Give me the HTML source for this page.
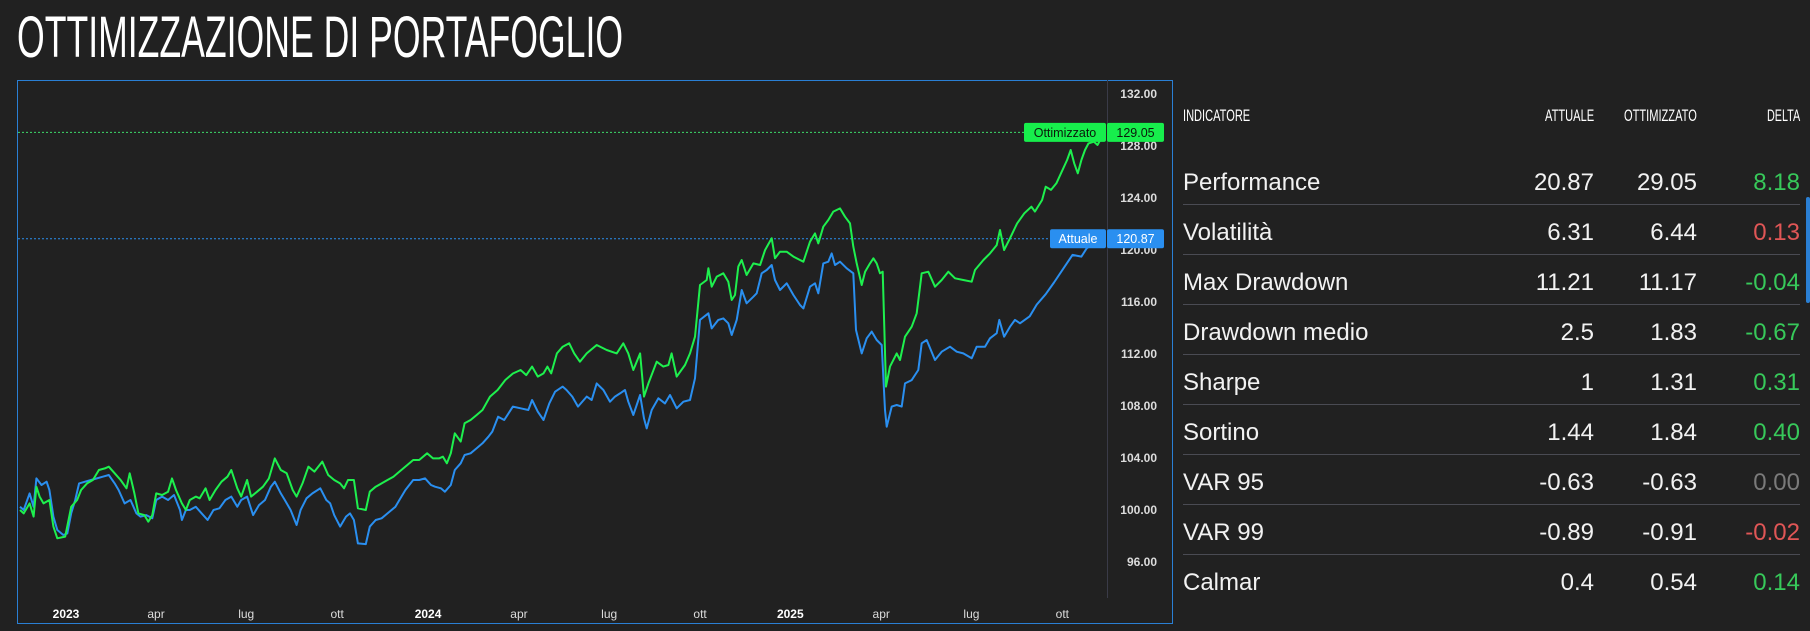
<!DOCTYPE html>
<html><head><meta charset="utf-8">
<style>
html,body{margin:0;padding:0;background:#212121;width:1810px;height:631px;overflow:hidden;font-family:"Liberation Sans",sans-serif;color:#f0f0f0}
.fit{position:absolute;white-space:nowrap;transform-origin:0 0}
#title{left:17px;top:4px;font-size:58px;color:#fff}
.hdr{font-size:17px;top:106px;color:#fff}
.lab{position:absolute;left:1183px;font-size:24px;color:#f2f2f2;white-space:nowrap}
.num{position:absolute;font-size:24px;color:#f2f2f2;text-align:right;white-space:nowrap}
.sep{position:absolute;left:1183px;width:617px;height:1px;background:#4a4b53}
</style></head><body>
<div id="title" class="fit">OTTIMIZZAZIONE DI PORTAFOGLIO</div>

<svg id="chart" width="1810" height="631" style="position:absolute;left:0;top:0" xmlns="http://www.w3.org/2000/svg">
<rect x="17.5" y="80.5" width="1155" height="543" fill="none" stroke="#2a7fd4" stroke-width="1"/>
<line x1="1107.5" y1="80" x2="1107.5" y2="598" stroke="#3a3b48" stroke-width="1"/>
<g id="plot"></g>
</svg>

<div id="table"></div>
<div style="position:absolute;left:1806px;top:197px;width:4px;height:106px;background:#2a7fd4;border-radius:2px"></div>

<script>
// ---- chart data ----
const attualeWeeks = [0,0.54,1.39,1.96,2.36,3.10,3.84,4.24,4.81,5.38,6.24,6.81,7.38,7.95,8.52,9.37,10.23,11.08,11.93,12.79,13.64,14.21,15.07,15.92,16.78,17.35,18.2,19.06,19.63,20.48,21.34,22.19,23.05,23.33,23.9,24.47,25.33,26.18,27.03,27.89,28.74,29.6,30.45,31.31,31.88,32.73,33.59,34.44,35.3,36.15,36.72,37.58,38.15,39.0,39.86,40.43,41.28,42.13,43.27,44.13,44.7,45.27,46.12,46.98,47.55,48.12,48.69,49.83,50.4,51.25,52.11,52.96,54.1,54.67,55.53,56.66,57.52,58.37,59.23,59.8,60.65,61.22,62.08,62.65,63.5,64.07,64.93,65.78,66.64,67.49,68.06,68.9,69.77,71.03,72.14,73.24,73.79,74.62,75.44,76.27,77.1,78.2,78.75,79.58,80.41,81.66,82.38,83.1,84.06,85.02,85.74,86.46,87.18,87.66,88.38,89.35,89.92,90.3,91.03,91.99,92.95,93.67,94.63,95.59,96.55,97.27,97.99,99.19,99.67,100.63,101.35,102.07,102.55,103.27,104.0,104.7,105.68,106.16,106.88,107.6,108.32,108.8,109.52,110.48,111.44,112.4,112.88,113.84,114.56,115.04,115.76,116.48,116.96,117.44,118.16,119.12,120.08,120.47,121.29,122.01,122.73,123.45,124.17,124.65,124.89,125.61,126.33,127.05,127.53,128.49,129.45,129.93,130.65,131.85,132.81,134.01,134.97,135.93,137.14,137.86,139.06,139.78,140.74,141.12,141.8,142.66,143.38,144.1,145.5,146.5,147.8,149,150.37,151.66,152.94,153.71,154.74,155.93,156];
const attualeValues = [100.25,100.0,101.28,100.25,102.43,101.92,102.18,101.54,99.49,98.46,98.08,98.2,99.74,100.77,102.05,102.18,102.31,102.43,102.56,102.69,102.05,101.54,100.51,100.77,99.74,99.49,99.61,99.36,100.77,101.03,100.77,101.15,100.0,99.23,100.0,100.0,100.25,99.74,99.23,100.0,100.13,100.77,101.03,100.25,100.77,101.03,99.61,100.38,100.77,101.79,102.18,101.28,100.77,100.0,98.85,100.0,100.9,101.28,101.67,100.77,100.51,99.61,98.72,99.49,99.74,99.23,97.43,97.38,98.72,99.23,99.36,99.74,100.25,100.77,101.54,102.31,102.31,102.43,101.92,101.79,101.67,101.41,101.92,103.08,103.59,104.23,104.36,104.74,105.13,105.64,106.03,107.18,106.92,107.95,107.82,107.69,108.46,107.56,106.92,108.2,109.1,109.49,109.23,108.72,107.95,108.72,108.46,109.74,109.23,108.33,108.72,108.97,109.23,108.33,107.31,108.85,107.05,106.28,107.69,108.59,108.2,108.85,107.82,108.33,108.46,110.13,114.62,115.13,113.97,114.62,114.74,114.36,113.46,114.62,116.92,115.9,116.41,116.67,118.21,118.46,118.85,117.69,116.92,117.44,116.54,115.77,115.51,117.18,117.44,116.67,118.97,119.1,119.74,118.85,119.1,118.59,118.21,113.85,112.05,113.21,113.72,113.08,112.69,107.69,106.41,107.95,108.08,107.95,109.74,109.99,110.77,112.82,113.08,111.54,112.18,112.56,112.18,112.05,111.67,112.56,112.56,113.21,113.6,114.62,113.33,114.1,114.62,114.36,114.9,115.8,116.6,117.5,118.59,119.62,119.49,120.13,120.51,120.51,120.87];
const ottimizzatoWeeks = [0,0.54,1.39,1.96,2.36,2.82,3.39,4.24,4.81,5.38,6.52,7.38,8.23,8.8,9.66,10.51,11.37,12.22,12.79,13.64,14.5,15.35,15.81,16.49,17.06,17.92,18.49,19.06,19.63,20.48,21.34,21.91,22.48,23.33,23.9,24.47,25.33,25.9,26.75,27.32,28.17,29.03,29.88,30.45,31.31,31.88,32.73,33.3,34.16,35.01,35.87,36.72,37.58,38.43,39.29,39.86,40.71,41.56,42.42,43.56,44.41,45.27,46.12,46.69,47.26,48.12,48.69,49.83,50.4,51.25,52.11,52.96,53.81,54.67,55.81,56.66,57.52,58.66,59.51,60.37,60.94,61.51,62.08,62.65,63.5,64.07,64.93,65.78,66.64,67.72,68.82,69.93,71.03,72.14,72.96,73.79,74.62,75.44,76.0,76.55,77.37,78.2,79.14,79.86,80.68,81.66,83.1,84.54,85.98,86.94,87.66,88.38,89.35,89.92,90.55,91.75,92.7,93.43,93.9,94.63,95.83,96.55,97.27,97.99,98.95,99.19,99.67,100.4,101.35,102.07,102.55,103.03,103.51,104.0,104.7,105.68,106.64,107.36,108.32,108.8,109.52,110.48,111.44,112.4,112.88,113.84,114.56,115.04,115.76,116.48,117.2,118.16,118.88,119.6,120.08,120.57,121.29,121.77,122.49,122.97,123.45,123.93,124.31,124.79,125.37,126.33,126.81,127.53,128.49,129.21,129.93,130.89,131.85,132.81,133.77,134.73,135.93,137.14,137.62,138.82,139.78,140.74,141.22,141.8,142.66,143.68,144.71,145.74,146.25,147.28,147.8,148.57,149.34,150.88,151.4,151.91,152.43,152.94,153.46,153.97,154.74,155.26,155.93,156];
const ottimizzatoValues = [100.0,99.74,100.51,99.49,101.79,101.03,100.51,100.77,98.72,97.82,97.95,100.25,100.77,101.54,102.05,102.31,103.08,103.2,103.33,102.82,102.31,101.67,102.82,101.28,99.74,99.61,99.1,99.61,101.28,101.15,101.41,102.43,101.54,100.51,100.0,100.77,101.03,100.9,101.67,100.77,101.54,102.18,102.56,103.08,101.67,101.03,102.31,101.03,101.41,101.79,102.43,103.97,103.08,102.82,101.54,101.03,102.05,103.33,102.95,103.72,102.69,102.31,102.05,101.67,102.31,102.31,100.13,100.0,101.41,101.79,102.05,102.31,102.56,102.95,103.46,103.85,103.85,104.36,103.97,103.97,104.1,103.59,104.36,105.9,105.26,106.67,106.92,107.3,107.69,108.72,109.23,110.0,110.5,110.77,110.38,111.03,110.26,110.51,111.03,110.51,112.05,112.56,112.82,112.05,111.41,112.05,112.69,112.31,112.05,112.82,112.05,110.77,112.05,108.72,109.74,111.41,111.03,111.15,112.05,110.26,111.15,112.05,113.33,117.31,117.69,118.59,117.18,117.95,118.21,117.56,116.15,116.54,118.72,119.23,118.08,118.97,118.85,120.0,120.9,119.36,119.87,119.87,119.49,119.23,119.1,120.64,121.28,120.51,121.79,122.31,122.95,123.2,122.56,122.05,120.26,118.97,117.31,118.33,118.97,119.36,118.97,118.21,118.33,109.49,111.03,112.05,111.54,113.33,114.1,115.13,118.21,118.33,117.18,117.69,118.33,117.82,117.69,117.56,118.46,119.23,119.74,120.38,121.54,120.0,120.9,122.05,122.82,123.33,122.95,123.85,124.87,124.62,125.13,126.92,127.69,126.67,125.9,126.92,127.69,128.2,128.33,128.08,128.72,129.05];
const yTicks = [96,100,104,108,112,116,120,124,128,132];
const xTickWeeks = [6.63,19.6,32.6,45.7,58.8,71.9,84.9,98.0,111.0,124.1,137.1,150.2];
const xTickLabels = ["2023","apr","lug","ott","2024","apr","lug","ott","2025","apr","lug","ott"];
const lastAttuale = 120.87, lastOttimizzato = 129.05;

const NS="http://www.w3.org/2000/svg";
const X0=20, X1=1102.6, W0=0, W1=156;
const xS = w => X0 + (w-W0)/(W1-W0)*(X1-X0);
const yS = v => 94 + (132-v)*13;
const plot=document.getElementById('plot');
function mk(tag, attrs){const e=document.createElementNS(NS,tag);for(const k in attrs)e.setAttribute(k,attrs[k]);plot.appendChild(e);return e;}

yTicks.forEach(v=>{
  const t=mk('text',{x:1157,y:yS(v)+4,'text-anchor':'end','font-size':12,'font-weight':'bold',fill:'#dcdcdc','font-family':'Liberation Sans, sans-serif'});
  t.textContent=v.toFixed(2);
  
  
});
xTickWeeks.forEach((w,i)=>{
  const yr=/^\d+$/.test(xTickLabels[i]);
  const t=mk('text',{x:xS(w),y:618,'text-anchor':'middle','font-size':12,'font-weight':yr?'bold':'normal',fill:yr?'#ffffff':'#dcdcdc','font-family':'Liberation Sans, sans-serif'});
  t.textContent=xTickLabels[i];
  
  
});

function series(weeks, vals, color, name){
  const d=weeks.map((w,i)=>(i?'L':'M')+xS(w).toFixed(1)+','+yS(vals[i]).toFixed(1)).join('');
  const p=mk('path',{d:d,fill:'none',stroke:color,'stroke-width':2,'stroke-linejoin':'round'});
  
  
}
const gl=mk('line',{x1:18,x2:1024,y1:yS(lastOttimizzato),y2:yS(lastOttimizzato),stroke:'#3ddc6a','stroke-width':1,'stroke-dasharray':'2,2'});


const bl=mk('line',{x1:18,x2:1050,y1:yS(lastAttuale),y2:yS(lastAttuale),stroke:'#2a8ff0','stroke-width':1,'stroke-dasharray':'2,2'});



series(attualeWeeks, attualeValues, '#2a8ff0', 'attuale-line');
series(ottimizzatoWeeks, ottimizzatoValues, '#1ef04e', 'ottimizzato-line');

function badge(x,w,v,bg,fg,txt,name){
  const y=yS(v);
  const r=mk('rect',{x:x,y:y-9.5,width:w,height:19,rx:2,fill:bg});
  
  
  const t=mk('text',{x:x+w/2,y:y+4.5,'text-anchor':'middle','font-size':12.5,fill:fg,'font-family':'Liberation Sans, sans-serif'});
  t.textContent=txt;
  
  
}
badge(1024,82,lastOttimizzato,'#17ee4c','#0b1a0b','Ottimizzato','ottimizzato-series-label');
badge(1107,57,lastOttimizzato,'#17ee4c','#0b1a0b',lastOttimizzato.toFixed(2),'ottimizzato-price-label');
badge(1050,56,lastAttuale,'#2a8ff0','#ffffff','Attuale','attuale-series-label');
badge(1107,57,lastAttuale,'#2a8ff0','#ffffff',lastAttuale.toFixed(2),'attuale-price-label');

// ---- table ----
const indicators=["Performance","Volatilità","Max Drawdown","Drawdown medio","Sharpe","Sortino","VAR 95","VAR 99","Calmar"];
const attualeCol=["20.87","6.31","11.21","2.5","1","1.44","-0.63","-0.89","0.4"];
const ottCol=["29.05","6.44","11.17","1.83","1.31","1.84","-0.63","-0.91","0.54"];
const deltaCol=["8.18","0.13","-0.04","-0.67","0.31","0.40","0.00","-0.02","0.14"];
const deltaColor=["g","r","g","g","g","g","n","r","g"];
const tbl=document.getElementById('table');
function hdr(txt,right,w,name){
  const d=document.createElement('div');
  d.className='fit hdr';d.textContent=txt;
  
  
  tbl.appendChild(d);
  const s=w/d.offsetWidth;
  d.style.transform='scaleX('+s+')';
  d.style.left=(right-w)+'px';
}
hdr('INDICATORE',1250,67,'header-indicatore');
hdr('ATTUALE',1594,49,'header-attuale');
hdr('OTTIMIZZATO',1697,73,'header-ottimizzato');
hdr('DELTA',1800,33,'header-delta');
const colors={g:'#37c95a',r:'#e05656',n:'#7a7a7a'};
indicators.forEach((name,i)=>{
  const base=191+50*i;
  const l=document.createElement('div');
  l.className='lab';l.style.top=(base-22)+'px';l.textContent=name;
  
  
  tbl.appendChild(l);
  [[attualeCol[i],1594,'#f2f2f2','attuale-value'],[ottCol[i],1697,'#f2f2f2','ottimizzato-value'],[deltaCol[i],1800,colors[deltaColor[i]],'delta-value']].forEach(c=>{
    const n=document.createElement('div');
    n.className='num';n.style.top=(base-22)+'px';n.style.right=(1810-c[1])+'px';n.style.color=c[2];n.textContent=c[0];
    
    
    tbl.appendChild(n);
  });
  if(i<indicators.length-1){
    const s=document.createElement('div');
    s.className='sep';s.style.top=(204+50*i)+'px';
    
    
    tbl.appendChild(s);
  }
});
const ti=document.getElementById('title');
ti.style.transform='scaleX('+(606/ti.offsetWidth)+')';
</script>
</body></html>
